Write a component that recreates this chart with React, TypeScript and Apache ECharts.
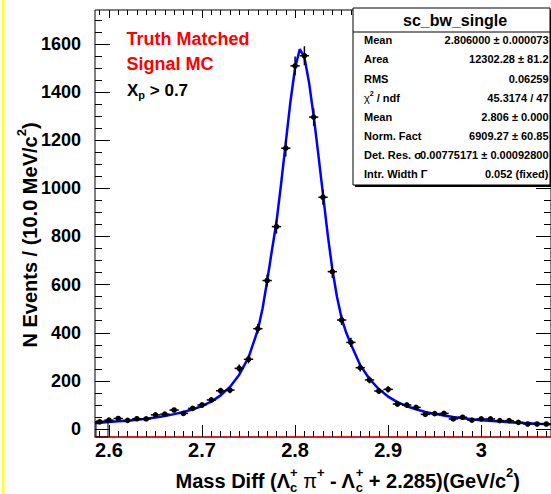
import React, { useEffect, useRef } from 'react';
import * as echarts from 'echarts';

// ---------- data ----------
const binCenters = [
  2.59, 2.60, 2.61, 2.62, 2.63, 2.64, 2.65, 2.66, 2.67, 2.68,
  2.69, 2.70, 2.71, 2.72, 2.73, 2.74, 2.75, 2.76, 2.77, 2.78,
  2.79, 2.80, 2.81, 2.82, 2.83, 2.84, 2.85, 2.86, 2.87, 2.88,
  2.89, 2.90, 2.91, 2.92, 2.93, 2.94, 2.95, 2.96, 2.97, 2.98,
  2.99, 3.00, 3.01, 3.02, 3.03, 3.04, 3.05, 3.06, 3.07,
];
const counts = [
  30, 37, 44, 36, 43, 42, 59, 62, 79, 65,
  86, 100, 121, 159, 162, 252, 290, 417, 617, 841,
  1167, 1509, 1551, 1296, 963, 654, 453, 360, 255, 204,
  158, 165, 104, 100, 90, 61, 64, 65, 42, 49,
  37, 42, 42, 35, 35, 28, 21, 21, 21,
];
const fitX = [
  2.585, 2.59, 2.60, 2.61, 2.62, 2.63, 2.64, 2.65, 2.66, 2.67, 2.68, 2.69, 2.70,
  2.71, 2.72, 2.73, 2.74, 2.75, 2.76, 2.765, 2.77, 2.775, 2.78, 2.785, 2.79, 2.795,
  2.80, 2.805, 2.81, 2.815, 2.82, 2.825, 2.83, 2.835, 2.84, 2.845, 2.85, 2.855, 2.86,
  2.87, 2.88, 2.89, 2.90, 2.91, 2.92, 2.93, 2.94, 2.95, 2.96, 2.97, 2.98, 2.99, 3.00,
  3.02, 3.04, 3.06, 3.075,
];
const fitY = [
  24, 26, 29, 32, 35, 39, 43, 48, 54, 62, 71, 82, 96,
  114, 140, 175, 226, 298, 412, 500, 615, 740, 860, 1020, 1190, 1360,
  1500, 1578, 1545, 1440, 1300, 1140, 975, 810, 665, 550, 460, 400, 352,
  265, 208, 166, 135, 112, 95, 82, 71, 63, 56, 50, 45, 41, 37,
  31, 26, 22, 20,
];
const xMajorTicks = [2.6, 2.7, 2.8, 2.9, 3.0];
const xTickLabels = ['2.6', '2.7', '2.8', '2.9', '3'];
const yMajorTicks = [0, 200, 400, 600, 800, 1000, 1200, 1400, 1600];
const yTickLabels = ['0', '200', '400', '600', '800', '1000', '1200', '1400', '1600'];

const statsTitle = 'sc_bw_single';
const statsLabels = ['Mean', 'Area', 'RMS', 'CHI', 'Mean', 'Norm. Fact', 'Det. Res. σ', 'Intr. Width Γ'];
const statsValues = [
  '2.806000 ± 0.000073',
  '12302.28 ± 81.2',
  '0.06259',
  '45.3174 / 47',
  '2.806 ± 0.000',
  '6909.27 ± 60.85',
  '0.00775171 ± 0.00092800',
  '0.052 (fixed)',
];

const X_MIN = 2.585;
const X_MAX = 3.075;
const Y_MIN = -33;
const Y_MAX = 1741;

const FONT = '"Liberation Sans", Arial, Helvetica, sans-serif';

let measureCtx: CanvasRenderingContext2D | null = null;
function measure(t: string, size: number, weight: string) {
  if (!measureCtx) measureCtx = document.createElement('canvas').getContext('2d');
  measureCtx!.font = `${weight} ${size}px ${FONT}`;
  return measureCtx!.measureText(t).width;
}

type Seg = { t: string; mode?: 'sup' | 'sub' | 'stack'; t2?: string; weight?: string };

function textGroup(
  segs: Seg[], S: number, color: string, align: 'left' | 'center' | 'right',
  x: number, y: number, rotation = 0, z = 30,
) {
  const small = Math.round(S * 0.66);
  const items: any[] = [];
  let cx = 0;
  for (const s of segs) {
    const w = s.weight ?? 'bold';
    if (!s.mode) {
      items.push({ t: s.t, x: cx, dy: 0, size: S, w });
      cx += measure(s.t, S, w);
    } else if (s.mode === 'sup') {
      items.push({ t: s.t, x: cx, dy: -0.42 * S, size: small, w });
      cx += measure(s.t, small, w);
    } else if (s.mode === 'sub') {
      items.push({ t: s.t, x: cx, dy: 0.32 * S, size: small, w });
      cx += measure(s.t, small, w);
    } else {
      items.push({ t: s.t, x: cx, dy: -0.42 * S, size: small, w });
      items.push({ t: s.t2 ?? '', x: cx, dy: 0.3 * S, size: small, w });
      cx += Math.max(measure(s.t, small, w), measure(s.t2 ?? '', small, w));
    }
  }
  const off = align === 'left' ? 0 : align === 'center' ? -cx / 2 : -cx;
  return {
    type: 'group',
    x,
    y,
    rotation,
    z,
    children: items.map((it) => ({
      type: 'text',
      x: it.x + off,
      y: it.dy,
      z,
      style: {
        text: it.t,
        fontSize: it.size,
        fontWeight: it.w,
        fontFamily: FONT,
        fill: color,
        textAlign: 'left',
        textVerticalAlign: 'middle',
      },
    })),
  };
}

function buildGraphics() {
  const g: any[] = [];
  // yellow border at left
  g.push({ type: 'rect', shape: { x: 2, y: 0, width: 2.5, height: 494 }, style: { fill: '#ffff33' }, z: 10 });
  // small box in bottom-left corner
  g.push({ type: 'rect', shape: { x: 96, y: 421, width: 12, height: 16 }, style: { fill: 'none', stroke: '#000', lineWidth: 1 }, z: 5 });
  // annotations
  g.push(textGroup([{ t: 'Truth Matched' }], 18, '#ff0000', 'left', 126.5, 39));
  g.push(textGroup([{ t: 'Signal MC' }], 18, '#ff0000', 'left', 126.5, 64));
  g.push(textGroup([{ t: 'X' }, { t: 'p', mode: 'sub' }, { t: ' > 0.7' }], 17, '#000', 'left', 127, 90));

  // stats box
  const bx = 353, by = 8, bw = 197, bh = 177;
  g.push({ type: 'rect', shape: { x: bx + 2, y: by + 2, width: bw, height: bh }, style: { fill: '#000' }, z: 20 });
  g.push({ type: 'rect', shape: { x: bx, y: by, width: bw, height: bh }, style: { fill: '#fff', stroke: '#000', lineWidth: 1 }, z: 21 });
  g.push({ type: 'line', shape: { x1: bx, y1: 32, x2: bx + bw, y2: 32 }, style: { stroke: '#000', lineWidth: 1 }, z: 22 });
  g.push(textGroup([{ t: statsTitle }], 16, '#000', 'center', 455, 20.5, 0, 40));
  const rowY = [39.5, 59.3, 78.8, 97.8, 116.8, 136, 155, 174];
  statsLabels.forEach((lab, i) => {
    const segs: Seg[] = lab === 'CHI'
      ? [{ t: 'χ', weight: 'normal' }, { t: '2', mode: 'sup' }, { t: ' / ndf' }]
      : [{ t: lab }];
    g.push(textGroup(segs, 11, '#000', 'left', 364, rowY[i], 0, 40));
    g.push(textGroup([{ t: statsValues[i] }], 11, '#000', 'right', 548.5, rowY[i], 0, 40));
  });

  // axis titles
  g.push(textGroup(
    [{ t: 'N Events / (10.0 MeV/c' }, { t: '2', mode: 'sup' }, { t: ')' }],
    20, '#000', 'center', 30, 235, Math.PI / 2,
  ));
  g.push(textGroup(
    [
      { t: 'Mass Diff (Λ' }, { t: '+', mode: 'stack', t2: 'c' },
      { t: ' π', weight: 'normal' }, { t: '+', mode: 'sup' },
      { t: ' - Λ' }, { t: '+', mode: 'stack', t2: 'c' },
      { t: ' + 2.285)(GeV/c' }, { t: '2', mode: 'sup' }, { t: ')' },
    ],
    20, '#000', 'right', 520, 481,
  ));
  return g;
}

function xMinor() {
  const v: number[] = [];
  for (let k = 259; k <= 307; k++) if (k % 10 !== 0) v.push(k / 100);
  return v;
}
function yMinor() {
  const v: number[] = [];
  for (let k = 50; k <= 1700; k += 50) if (k % 200 !== 0) v.push(k);
  return v;
}

function xAxisDef(position: 'bottom' | 'top', ticks: number[], len: number, labels: boolean, line: boolean) {
  return {
    type: 'value',
    min: X_MIN,
    max: X_MAX,
    position,
    axisLine: { show: line, onZero: false, lineStyle: { color: '#ff0000', width: 1.5 } },
    axisTick: { show: true, inside: true, length: len, customValues: ticks, lineStyle: { color: '#000', width: 1 } },
    axisLabel: labels
      ? {
        show: true,
        customValues: xMajorTicks,
        formatter: (val: number) => {
          const i = xMajorTicks.findIndex((t) => Math.abs(t - val) < 1e-6);
          return i >= 0 ? xTickLabels[i] : '';
        },
        fontSize: 20,
        fontWeight: 'bold',
        fontFamily: FONT,
        color: '#000',
        margin: 3,
      }
      : { show: false },
    splitLine: { show: false },
  };
}
function yAxisDef(position: 'left' | 'right', ticks: number[], len: number, labels: boolean) {
  return {
    type: 'value',
    min: Y_MIN,
    max: Y_MAX,
    position,
    axisLine: { show: false, onZero: false },
    axisTick: { show: true, inside: true, length: len, customValues: ticks, lineStyle: { color: '#000', width: 1 } },
    axisLabel: labels
      ? {
        show: true,
        customValues: yMajorTicks,
        formatter: (val: number) => {
          const i = yMajorTicks.findIndex((t) => Math.abs(t - val) < 1e-6);
          return i >= 0 ? yTickLabels[i] : '';
        },
        fontSize: 18,
        fontWeight: 'bold',
        fontFamily: FONT,
        color: '#000',
        margin: 14,
      }
      : { show: false },
    splitLine: { show: false },
  };
}

export default function App() {
  const ref = useRef<HTMLDivElement>(null);
  useEffect(() => {
    if (!ref.current) return;
    const chart = echarts.init(ref.current, undefined, { renderer: 'svg' });
    const option: any = {
      animation: false,
      backgroundColor: '#ffffff',
      grid: {
        left: 95, top: 10, width: 459, height: 427,
        show: true, borderColor: '#000', borderWidth: 1, backgroundColor: 'transparent',
      },
      xAxis: [
        xAxisDef('bottom', xMajorTicks, 12, true, true),
        xAxisDef('bottom', xMinor(), 6, false, false),
        xAxisDef('top', xMajorTicks, 8, false, false),
        xAxisDef('top', xMinor(), 5, false, false),
      ],
      yAxis: [
        yAxisDef('left', yMajorTicks, 15, true),
        yAxisDef('left', yMinor(), 7, false),
        yAxisDef('right', yMajorTicks, 15, false),
        yAxisDef('right', yMinor(), 7, false),
      ],
      series: [
        {
          type: 'line',
          xAxisIndex: 0,
          yAxisIndex: 0,
          data: fitX.map((x, i) => [x, fitY[i]]),
          showSymbol: false,
          symbol: 'none',
          lineStyle: { color: '#0000ff', width: 2.5 },
          z: 2,
        },
        {
          type: 'custom',
          xAxisIndex: 0,
          yAxisIndex: 0,
          data: binCenters.map((x, i) => [x, counts[i]]),
          clip: true,
          z: 3,
          renderItem: (params: any, api: any) => {
            const x = api.value(0);
            const y = api.value(1);
            const e = Math.sqrt(y);
            const c = api.coord([x, y]);
            const l = api.coord([x - 0.005, y]);
            const r = api.coord([x + 0.005, y]);
            const t = api.coord([x, y + e]);
            const b = api.coord([x, y - e]);
            return {
              type: 'group',
              children: [
                { type: 'line', shape: { x1: l[0], y1: c[1], x2: r[0], y2: c[1] }, style: { stroke: '#000', lineWidth: 1.5 } },
                { type: 'line', shape: { x1: c[0], y1: t[1], x2: c[0], y2: b[1] }, style: { stroke: '#000', lineWidth: 1.5 } },
                { type: 'circle', shape: { cx: c[0], cy: c[1], r: 2.8 }, style: { fill: '#000' } },
              ],
            };
          },
        },
      ],
      graphic: buildGraphics(),
    };
    chart.setOption(option);
    return () => chart.dispose();
  }, []);
  return (
    <div
      ref={ref}
      style={{ position: 'fixed', left: 0, top: 0, width: 551, height: 494, background: '#fff' }}
    />
  );
}
